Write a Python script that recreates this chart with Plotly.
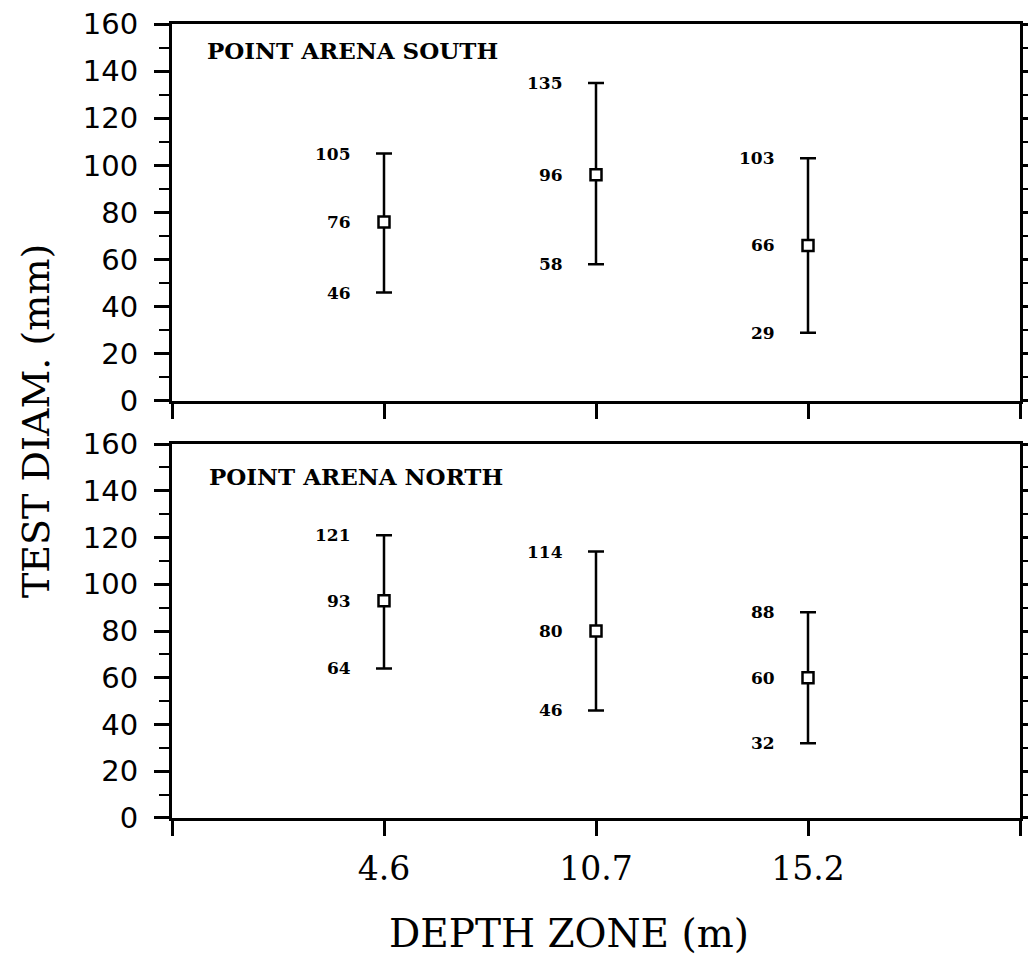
import plotly.graph_objects as go

# ---- data ----
depth_zones = ["4.6", "10.7", "15.2"]
panel_titles = ["POINT ARENA SOUTH", "POINT ARENA NORTH"]
south_mean = [76, 96, 66]
south_upper = [105, 135, 103]
south_lower = [46, 58, 29]
north_mean = [93, 80, 60]
north_upper = [121, 114, 88]
north_lower = [64, 46, 32]
y_tick_values = [0, 20, 40, 60, 80, 100, 120, 140, 160]
x_title = "DEPTH ZONE (m)"
y_title = "TEST DIAM. (mm)"

xpos = [i + 1 for i in range(len(depth_zones))]
tickvals = [0] + xpos + [len(depth_zones) + 1]
ticktext = [""] + depth_zones + [""]

panels = [
    (panel_titles[0], south_mean, south_upper, south_lower, "x", "y"),
    (panel_titles[1], north_mean, north_upper, north_lower, "x2", "y2"),
]

fig = go.Figure()
annotations = []
title_y = {"y": 0.931, "y2": 0.914}
title_x = {"y": 0.039, "y2": 0.041}
for title, mean, upper, lower, xa, ya in panels:
    fig.add_trace(go.Scatter(
        x=xpos, y=mean, mode="markers", xaxis=xa, yaxis=ya,
        marker=dict(symbol="square", size=11, color="white",
                    line=dict(color="black", width=2.5)),
        error_y=dict(type="data", symmetric=False,
                     array=[u - m for u, m in zip(upper, mean)],
                     arrayminus=[m - l for m, l in zip(mean, lower)],
                     color="black", thickness=2.5, width=8),
        showlegend=False, hoverinfo="skip",
    ))
    for i, xp in enumerate(xpos):
        for v in (upper[i], mean[i], lower[i]):
            annotations.append(dict(
                x=xp, y=v, xref=xa, yref=ya, text=str(v), showarrow=False,
                xanchor="right", yanchor="middle", xshift=-31,
                font=dict(family="DejaVu Serif", size=17, color="black",
                          weight="bold"),
            ))
    xdom = "x domain" if xa == "x" else "x2 domain"
    ydom = "y domain" if ya == "y" else "y2 domain"
    annotations.append(dict(
        x=title_x[ya], y=title_y[ya], xref=xdom, yref=ydom, text=title,
        showarrow=False, xanchor="left", yanchor="middle",
        font=dict(family="DejaVu Serif", size=23, color="black",
                  weight="bold"),
    ))

annotations.append(dict(
    x=0.468, y=0, xref="paper", yref="paper", yshift=-115, text=x_title,
    showarrow=False, xanchor="center", yanchor="middle",
    font=dict(family="DejaVu Serif", size=39, color="black"),
))
annotations.append(dict(
    x=0, y=0.5, xref="paper", yref="paper", xshift=-136, text=y_title,
    showarrow=False, xanchor="center", yanchor="middle", textangle=-90,
    font=dict(family="DejaVu Serif", size=38, color="black"),
))

xaxis_common = dict(
    range=[0, len(depth_zones) + 1], tickmode="array", tickvals=tickvals,
    ticktext=ticktext, ticks="outside", ticklen=15, tickwidth=2.5,
    tickcolor="black", showline=True, linecolor="black", linewidth=3,
    mirror=True, showgrid=False, zeroline=False, automargin=False,
)
yaxis_common = dict(
    range=[0, 160], tickmode="array", tickvals=y_tick_values,
    ticks="outside", ticklen=15, tickwidth=2.5, tickcolor="black",
    showline=True, linecolor="black", linewidth=3, mirror="allticks",
    showgrid=False, zeroline=False, ticklabelstandoff=10, automargin=False,
    tickfont=dict(family="DejaVu Sans", size=29, color="black"),
    minor=dict(ticks="outside", ticklen=10, tickwidth=2, dtick=10,
               tickcolor="black", showgrid=False),
)

fig.update_layout(
    width=1028, height=959,
    margin=dict(l=172, r=8, t=24, b=141),
    paper_bgcolor="white", plot_bgcolor="white",
    xaxis=dict(**xaxis_common, anchor="y", domain=[0, 1], showticklabels=False),
    yaxis=dict(**yaxis_common, anchor="x", domain=[0.5252, 1]),
    xaxis2=dict(**xaxis_common, anchor="y2", domain=[0, 1],
                tickfont=dict(family="DejaVu Serif", size=33, color="black"),
                ticklabelstandoff=4),
    yaxis2=dict(**yaxis_common, anchor="x2", domain=[0, 0.471]),
    annotations=annotations,
)

fig.write_html("out.html")
